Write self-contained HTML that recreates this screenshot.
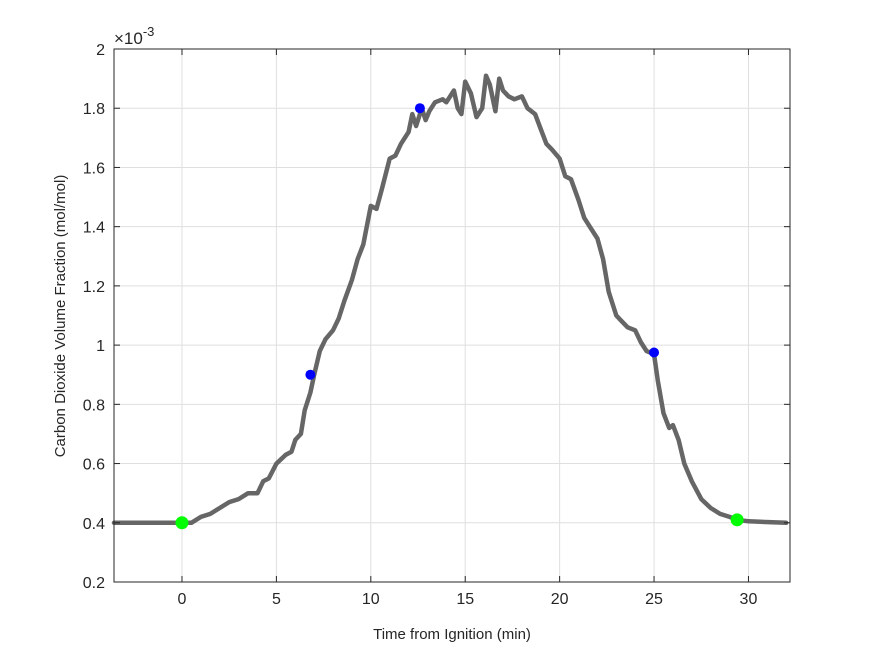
<!DOCTYPE html>
<html><head><meta charset="utf-8"><style>
body{margin:0;background:#fff;}
svg{display:block;font-family:"Liberation Sans",Arial,sans-serif;}
</style></head><body>
<svg id="chart" width="875" height="656" viewBox="0 0 875 656">
<rect width="875" height="656" fill="#fff"/>
<g id="grid"></g>
<g id="series"></g>
<g id="axes"></g>
<text x="452" y="639" font-size="15" text-anchor="middle" fill="#262626">Time from Ignition (min)</text>
<text transform="translate(65,316) rotate(-90)" font-size="15" text-anchor="middle" fill="#262626">Carbon Dioxide Volume Fraction (mol/mol)</text>
<text x="114" y="44" font-size="17" fill="#262626">×10<tspan dy="-8" font-size="13">-3</tspan></text>
</svg>
<script>
const xTicks=[0,5,10,15,20,25,30];
const yTicks=[0.2,0.4,0.6,0.8,1,1.2,1.4,1.6,1.8,2];
const yTickLabels=["0.2","0.4","0.6","0.8","1","1.2","1.4","1.6","1.8","2"];
const times=[-3.6,0,0.5,1,1.5,2,2.5,3,3.5,4,4.3,4.6,5,5.5,5.8,6,6.3,6.5,6.8,7,7.3,7.6,8,8.3,8.6,9,9.3,9.6,10,10.3,10.6,11,11.3,11.6,12,12.2,12.4,12.7,12.9,13.1,13.4,13.8,14,14.4,14.6,14.8,15,15.3,15.6,15.9,16.1,16.3,16.6,16.8,17,17.3,17.6,18,18.3,18.7,19,19.3,19.6,20,20.3,20.6,21,21.3,21.6,22,22.3,22.6,23,23.3,23.6,24,24.3,24.6,25,25.2,25.5,25.8,26,26.3,26.6,27,27.5,28,28.5,29,29.4,30,32];
const co2=[0.40,0.40,0.40,0.42,0.43,0.45,0.47,0.48,0.50,0.50,0.54,0.55,0.60,0.63,0.64,0.68,0.70,0.78,0.84,0.90,0.98,1.02,1.05,1.09,1.15,1.22,1.29,1.34,1.47,1.46,1.53,1.63,1.64,1.68,1.72,1.78,1.74,1.80,1.76,1.79,1.82,1.83,1.82,1.86,1.80,1.78,1.89,1.85,1.77,1.80,1.91,1.88,1.79,1.90,1.86,1.84,1.83,1.84,1.80,1.78,1.73,1.68,1.66,1.63,1.57,1.56,1.49,1.43,1.40,1.36,1.29,1.18,1.10,1.08,1.06,1.05,1.01,0.98,0.97,0.88,0.77,0.72,0.73,0.68,0.60,0.54,0.48,0.45,0.43,0.42,0.41,0.405,0.40];
const blueT=[6.8,12.6,25.0];
const blueV=[0.90,1.80,0.975];
const greenT=[0,29.4];
const greenV=[0.40,0.41];

const L=114,R=790,T=49,B=582,xMin=-3.6,xMax=32.2,yMin=0.2,yMax=2;
const sx=v=>L+(v-xMin)/(xMax-xMin)*(R-L);
const sy=v=>B-(v-yMin)/(yMax-yMin)*(B-T);
const NS="http://www.w3.org/2000/svg";
function mk(tag,attrs,parent){const e=document.createElementNS(NS,tag);for(const k in attrs)e.setAttribute(k,attrs[k]);parent.appendChild(e);return e;}
const grid=document.getElementById('grid'),axes=document.getElementById('axes'),series=document.getElementById('series');
xTicks.forEach(t=>{
  const x=sx(t);
  const g=mk('line',{x1:x,x2:x,y1:T,y2:B,stroke:'#dfdfdf','stroke-width':1},grid);
  
  
  mk('line',{x1:x,x2:x,y1:B,y2:B-6,stroke:'#262626'},axes);
  mk('line',{x1:x,x2:x,y1:T,y2:T+6,stroke:'#262626'},axes);
  const tx=mk('text',{x:x,y:B+22,'font-size':16,'text-anchor':'middle',fill:'#262626'},axes);
  tx.textContent=t;
  
  
});
yTicks.forEach((v,i)=>{
  const y=sy(v);
  const g=mk('line',{x1:L,x2:R,y1:y,y2:y,stroke:'#dfdfdf','stroke-width':1},grid);
  
  
  mk('line',{x1:L,x2:L+6,y1:y,y2:y,stroke:'#262626'},axes);
  mk('line',{x1:R,x2:R-6,y1:y,y2:y,stroke:'#262626'},axes);
  const tx=mk('text',{x:L-9,y:y+6,'font-size':16,'text-anchor':'end',fill:'#262626'},axes);
  tx.textContent=yTickLabels[i];
  
  
});
const frame=mk('rect',{x:L,y:T,width:R-L,height:B-T,fill:'none',stroke:'#262626','stroke-width':1},axes);


const pts=times.map((t,i)=>sx(t).toFixed(1)+','+sy(co2[i]).toFixed(1)).join(' ');
const line=mk('polyline',{points:pts,fill:'none',stroke:'#666','stroke-width':4.5,'stroke-linejoin':'round','stroke-linecap':'round'},series);


blueT.forEach((t,i)=>{
  const c=mk('circle',{cx:sx(t),cy:sy(blueV[i]),r:5,fill:'#0000ff'},series);
  
  
});
greenT.forEach((t,i)=>{
  const c=mk('circle',{cx:sx(t),cy:sy(greenV[i]),r:6.5,fill:'#00ff00'},series);
  
  
});
</script>
</body></html>
